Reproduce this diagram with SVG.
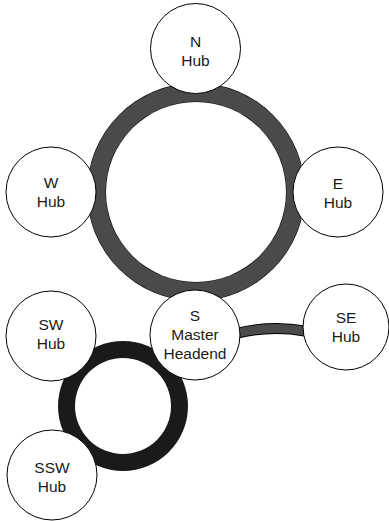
<svg xmlns="http://www.w3.org/2000/svg" width="389" height="521" viewBox="0 0 389 521">
  <style>
    .hub { fill: #ffffff; stroke: #000000; stroke-width: 1; }
    .label { font-family: "Liberation Sans", Arial, sans-serif; font-size: 15.5px; fill: #1a1a1a; text-anchor: middle; }
  </style>
  <rect width="389" height="521" fill="#ffffff"/>

  <!-- connectors: ring trunks and the spur to SE -->
  <g id="connectors">
    <!-- main ring -->
    <circle cx="196" cy="192" r="109" fill="#000000"/>
    <circle cx="196" cy="192" r="108.5" fill="#4a4a4a"/>
    <circle cx="196" cy="192" r="90.5" fill="#000000"/>
    <circle cx="196" cy="192" r="90" fill="#ffffff"/>
    <!-- south-west ring -->
    <circle cx="123" cy="406" r="65" fill="#1a1a1a"/>
    <circle cx="123" cy="406" r="48" fill="#ffffff"/>
    <!-- spur S to SE -->
    <path d="M 236 333.5 Q 270 325 305 331" fill="none" stroke="#000000" stroke-width="11"/>
    <path d="M 236 333.5 Q 270 325 305 331" fill="none" stroke="#4a4a4a" stroke-width="9"/>
  </g>

  <g id="hub-n">
    <circle class="hub" cx="195.5" cy="48.5" r="45"/>
    <text class="label" x="195.5" y="47">N</text>
    <text class="label" x="195.5" y="66">Hub</text>
  </g>
  <g id="hub-w">
    <circle class="hub" cx="51" cy="192" r="45"/>
    <text class="label" x="51" y="188">W</text>
    <text class="label" x="51" y="207">Hub</text>
  </g>
  <g id="hub-e">
    <circle class="hub" cx="338" cy="192" r="45"/>
    <text class="label" x="338" y="189">E</text>
    <text class="label" x="338" y="208">Hub</text>
  </g>
  <g id="hub-s">
    <circle class="hub" cx="195" cy="335" r="45"/>
    <text class="label" x="195" y="321">S</text>
    <text class="label" x="195" y="340">Master</text>
    <text class="label" x="195" y="359">Headend</text>
  </g>
  <g id="hub-se">
    <circle class="hub" cx="346" cy="327" r="43"/>
    <text class="label" x="346" y="323">SE</text>
    <text class="label" x="346" y="342">Hub</text>
  </g>
  <g id="hub-sw">
    <circle class="hub" cx="51" cy="336" r="45"/>
    <text class="label" x="51" y="330">SW</text>
    <text class="label" x="51" y="349">Hub</text>
  </g>
  <g id="hub-ssw">
    <circle class="hub" cx="52" cy="475" r="45"/>
    <text class="label" x="52" y="473">SSW</text>
    <text class="label" x="52" y="492">Hub</text>
  </g>
</svg>
